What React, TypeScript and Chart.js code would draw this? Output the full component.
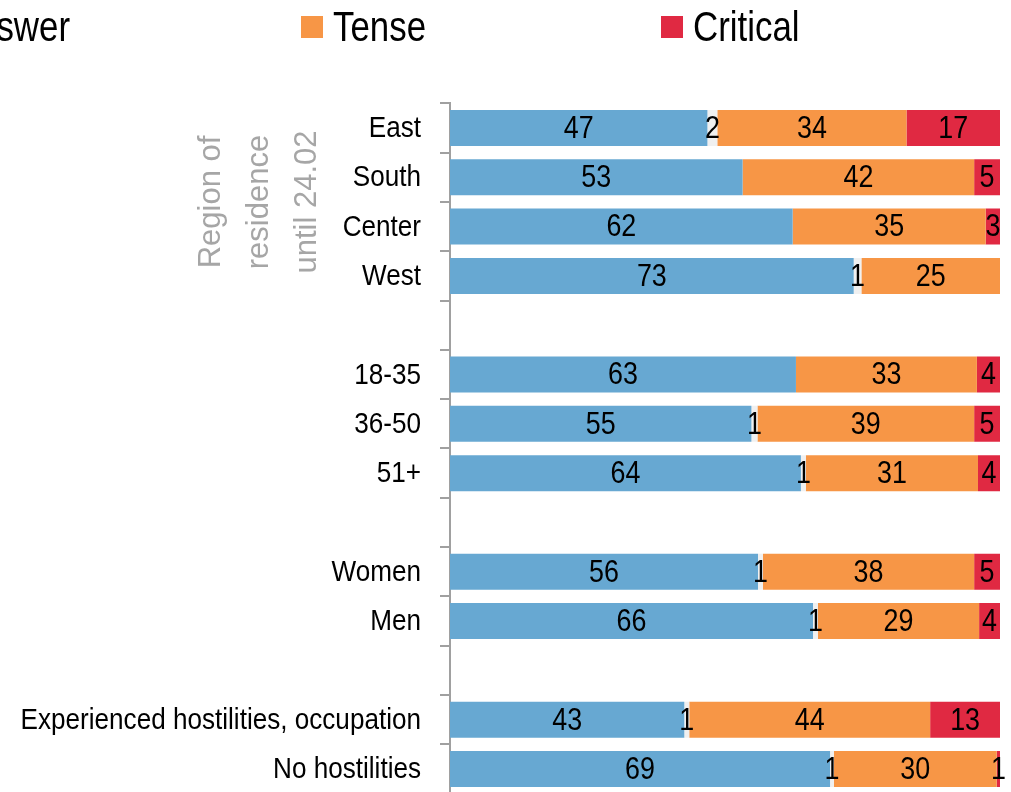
import { useEffect, useRef } from 'react';
import { Chart, registerables } from 'chart.js';

Chart.register(...registerables);

const categories = [
  'East', 'South', 'Center', 'West', '',
  '18-35', '36-50', '51+', '',
  'Women', 'Men', '',
  'Experienced hostilities, occupation', 'No hostilities',
];
const calm = [46.8, 53.2, 62.3, 73.4, null, 62.9, 54.8, 63.8, null, 56.0, 66.0, null, 42.6, 69.1];
const hardToAnswer = [1.8, 0, 0, 1.4, null, 0, 1.1, 0.9, null, 0.9, 0.9, null, 0.9, 0.7];
const tense = [34.4, 42.1, 35.1, 25.2, null, 32.9, 39.4, 31.3, null, 38.4, 29.3, null, 43.8, 29.6];
const critical = [17.0, 4.7, 2.6, 0, null, 4.2, 4.7, 4.0, null, 4.7, 3.8, null, 12.7, 0.6];

const seriesNames = ['Calm', 'Hard to answer', 'Tense', 'Critical'];
const seriesColors = ['#67a8d2', '#f0f0f0', '#f79646', '#e02942'];
const axisTitleLines = ['Region of', 'residence', 'until 24.02'];

const FONT = '"Liberation Sans", Arial, sans-serif';

function narrowText(ctx: any, text: string, x: number, y: number, align: string, size: number, sx: number) {
  ctx.save();
  ctx.font = `${size}px ${FONT}`;
  ctx.textAlign = align;
  ctx.translate(x, y);
  ctx.scale(sx, 1);
  ctx.fillText(text, 0, 0);
  ctx.restore();
}

const labelPlugin = {
  id: 'segLabels',
  afterDatasetsDraw(chart: any) {
    const ctx = chart.ctx;
    ctx.save();
    ctx.fillStyle = '#000';
    ctx.textBaseline = 'middle';
    chart.data.datasets.forEach((ds: any, di: number) => {
      const meta = chart.getDatasetMeta(di);
      meta.data.forEach((bar: any, i: number) => {
        const v = ds.data[i];
        if (v === null || v === undefined || v === 0) return;
        const cx = (bar.x + bar.base) / 2;
        narrowText(ctx, String(Math.round(v)), cx, bar.y + 1, 'center', 32, 0.84);
      });
    });
    ctx.restore();
  },
};

const decorPlugin = {
  id: 'decor',
  afterDraw(chart: any) {
    const ctx = chart.ctx;
    ctx.save();
    // category labels
    const yScale = chart.scales.y;
    ctx.fillStyle = '#000';
    ctx.textBaseline = 'middle';
    categories.forEach((c, i) => {
      if (!c) return;
      narrowText(ctx, c, 421, yScale.getPixelForTick(i) + 1, 'right', 29, 0.9);
    });
    // legend (cropped at left edge)
    ctx.textBaseline = 'alphabetic';
    narrowText(ctx, seriesNames[1], 70, 41, 'right', 42, 0.83);
    ctx.fillStyle = seriesColors[2];
    ctx.fillRect(301, 16, 22, 22);
    ctx.fillStyle = '#000';
    narrowText(ctx, seriesNames[2], 333, 41, 'left', 42, 0.83);
    ctx.fillStyle = seriesColors[3];
    ctx.fillRect(661, 16, 22, 22);
    ctx.fillStyle = '#000';
    narrowText(ctx, seriesNames[3], 693, 41, 'left', 42, 0.83);

    // rotated group title
    ctx.font = `31px ${FONT}`;
    ctx.fillStyle = '#a6a6a6';
    ctx.textAlign = 'center';
    ctx.translate(0, 202);
    ctx.rotate(-Math.PI / 2);
    const baselines = [220, 268, 316];
    axisTitleLines.forEach((t, i) => ctx.fillText(t, 0, baselines[i]));
    ctx.restore();
  },
};

export default function App() {
  const ref = useRef<HTMLCanvasElement>(null);
  useEffect(() => {
    document.body.style.margin = '0';
    document.body.style.overflow = 'hidden';
    const data = [calm, hardToAnswer, tense, critical];
    const chart = new Chart(ref.current!, {
      type: 'bar',
      data: {
        labels: categories,
        datasets: data.map((d, i) => ({
          label: seriesNames[i],
          data: d,
          backgroundColor: seriesColors[i],
          borderWidth: 0,
          barPercentage: 0.73,
          categoryPercentage: 1,
        })),
      },
      options: {
        indexAxis: 'y',
        responsive: false,
        maintainAspectRatio: false,
        animation: false,
        events: [],
        layout: { padding: { top: 103.35, bottom: 6.35, left: 0, right: 11 } },
        plugins: { legend: { display: false }, tooltip: { enabled: false }, title: { display: false } },
        scales: {
          x: { stacked: true, display: false, min: 0, max: 100 },
          y: {
            stacked: true,
            grid: { offset: true, drawOnChartArea: false, drawTicks: true, tickLength: 10, color: '#a0a0a0', lineWidth: 2 },
            border: { display: true, color: '#a0a0a0', width: 2 },
            ticks: { color: 'rgba(0,0,0,0)', font: { family: FONT, size: 12 }, padding: 19, autoSkip: false },
            afterFit: (s: any) => { s.width = 450; s.paddingTop = 0; s.paddingBottom = 0; },
          },
        },
      },
      plugins: [labelPlugin, decorPlugin],
    } as any);
    return () => chart.destroy();
  }, []);
  return (
    <div style={{ position: 'fixed', left: 0, top: 0, width: 1011, height: 800, overflow: 'hidden', background: '#fff' }}>
      <canvas ref={ref} width={1011} height={800} style={{ display: 'block', width: 1011, height: 800 }} />
    </div>
  );
}
